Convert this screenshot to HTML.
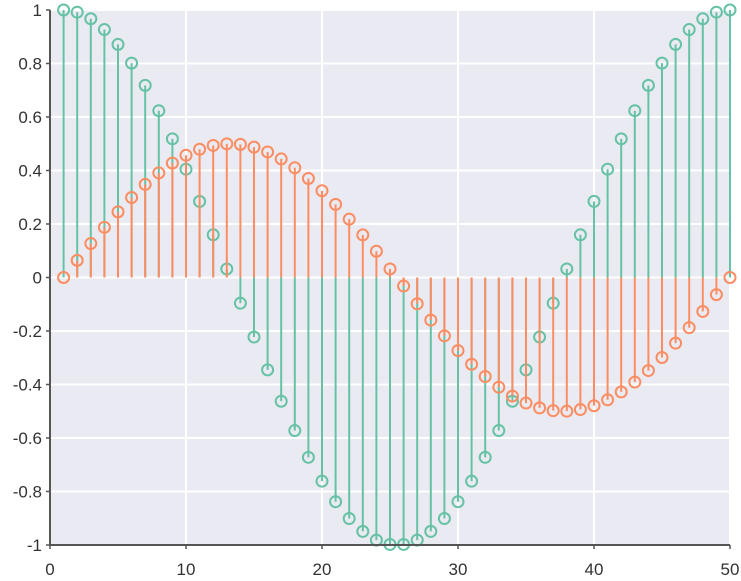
<!DOCTYPE html>
<html><head><meta charset="utf-8"><style>
body{margin:0;background:#fff;}
svg{display:block;font-family:"Liberation Sans",sans-serif;}
</style></head><body>
<svg id="chart" width="741" height="581"></svg>
<script>
const xValues = [1,2,3,4,5,6,7,8,9,10,11,12,13,14,15,16,17,18,19,20,21,22,23,24,25,26,27,28,29,30,31,32,33,34,35,36,37,38,39,40,41,42,43,44,45,46,47,48,49,50];
const greenValues = [1,0.9918,0.9673,0.9269,0.8713,0.8014,0.7183,0.6235,0.5184,0.4048,0.2845,0.1596,0.0320,-0.0960,-0.2225,-0.3453,-0.4625,-0.5721,-0.6723,-0.7614,-0.8381,-0.9010,-0.9491,-0.9817,-0.9979,-0.9979,-0.9817,-0.9491,-0.9010,-0.8381,-0.7614,-0.6723,-0.5721,-0.4625,-0.3453,-0.2225,-0.0960,0.0320,0.1596,0.2845,0.4048,0.5184,0.6235,0.7183,0.8014,0.8713,0.9269,0.9673,0.9918,1];
const orangeValues = [0,0.0640,0.1269,0.1876,0.2454,0.2990,0.3479,0.3909,0.4276,0.4572,0.4794,0.4936,0.4997,0.4977,0.4875,0.4693,0.4433,0.4101,0.3702,0.3243,0.2733,0.2180,0.1592,0.0982,0.0320,-0.0320,-0.0982,-0.1592,-0.2180,-0.2733,-0.3243,-0.3702,-0.4101,-0.4433,-0.4693,-0.4875,-0.4977,-0.4997,-0.4936,-0.4794,-0.4572,-0.4276,-0.3909,-0.3479,-0.2990,-0.2454,-0.1876,-0.1269,-0.0640,0];
const xTicks = [0,10,20,30,40,50];
const yTicks = [-1,-0.8,-0.6,-0.4,-0.2,0,0.2,0.4,0.6,0.8,1];

const NS="http://www.w3.org/2000/svg";
const svg=document.getElementById('chart');
const L=50,R=730,T=10,B=545;
const sx=v=>L+(v-0)/(50-0)*(R-L);
const sy=v=>B-(v+1)/2*(B-T);
function mk(tag,attrs,parent){const e=document.createElementNS(NS,tag);for(const k in attrs)e.setAttribute(k,attrs[k]);(parent||svg).appendChild(e);return e;}

const bg=mk('rect',{x:L,y:T,width:R-L,height:B-T,fill:'#eaeaf2'});



xTicks.forEach(t=>{
  const g=mk('line',{x1:sx(t),x2:sx(t),y1:T,y2:B,stroke:'#fff','stroke-width':2});
  
  
  const tk=mk('line',{x1:sx(t),x2:sx(t),y1:B,y2:B+4,stroke:'#555','stroke-width':1.5});
  
  
  const tx=mk('text',{x:sx(t),y:B+30,'text-anchor':'middle','font-size':17,fill:'#333'});
  tx.textContent=t;
  
  
});
yTicks.forEach(t=>{
  const g=mk('line',{x1:L,x2:R,y1:sy(t),y2:sy(t),stroke:'#fff','stroke-width':2});
  
  
  const tk=mk('line',{x1:L-4,x2:L,y1:sy(t),y2:sy(t),stroke:'#555','stroke-width':1.5});
  
  
  const tx=mk('text',{x:L-8,y:sy(t)+6,'text-anchor':'end','font-size':17,fill:'#333'});
  tx.textContent=(t===0?'0':String(t));
  
  
});

function series(vals,color,name){
  const g=mk('g',{});
  
  
  vals.forEach((v,i)=>{
    const ln=mk('line',{x1:sx(xValues[i]),x2:sx(xValues[i]),y1:sy(0),y2:sy(v),stroke:color,'stroke-width':2},g);
    
    
  });
  vals.forEach((v,i)=>{
    const c=mk('circle',{cx:sx(xValues[i]),cy:sy(v),r:5.5,fill:'none',stroke:color,'stroke-width':2},g);
    
    
  });
}
series(greenValues,'#66c2a5','green-series');
series(orangeValues,'#fc8d62','orange-series');

const ax=mk('path',{d:`M${L},${T} L${L},${B} L${R},${B}`,fill:'none',stroke:'#555','stroke-width':2});


</script>
</body></html>
